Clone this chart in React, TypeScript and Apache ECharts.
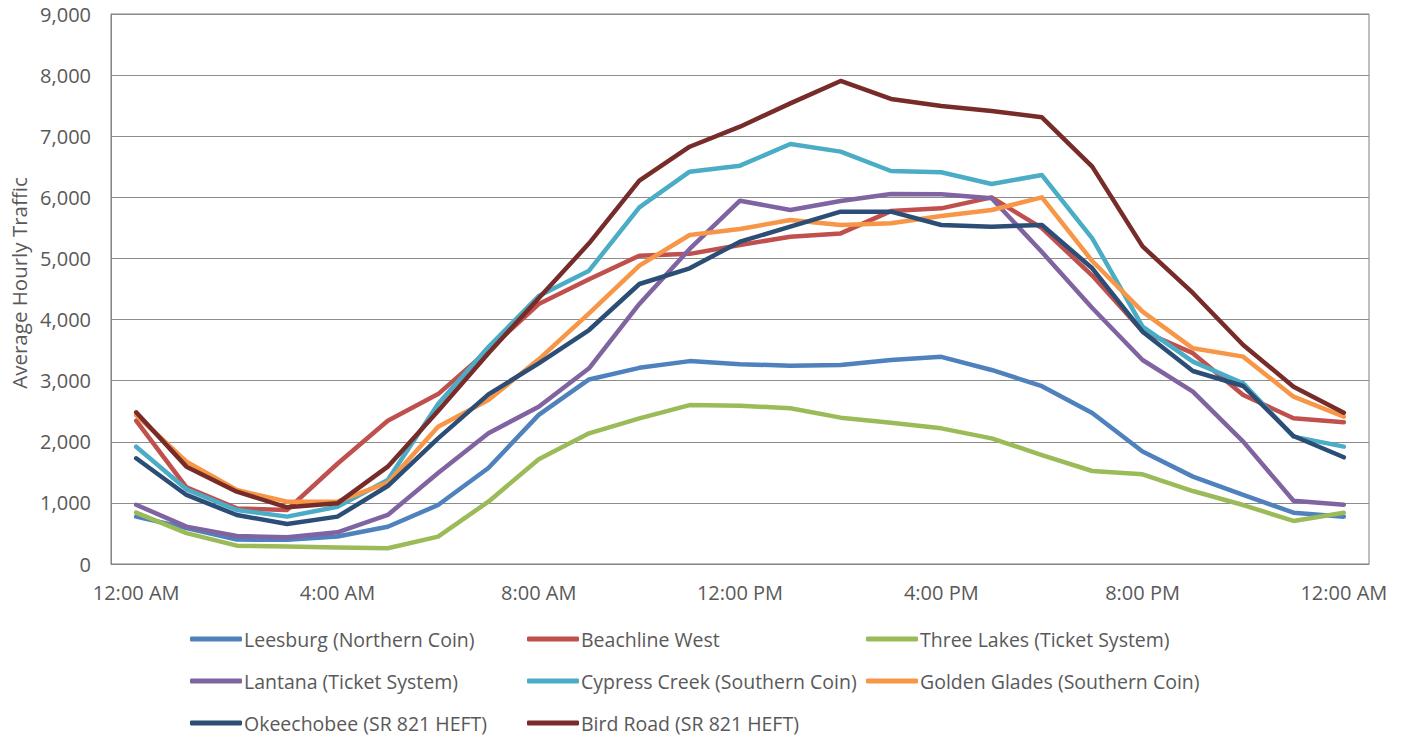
import React, { useEffect, useRef } from "react";
import * as echarts from "echarts";

const hours = [
  "12:00 AM", "1:00 AM", "2:00 AM", "3:00 AM", "4:00 AM", "5:00 AM", "6:00 AM", "7:00 AM",
  "8:00 AM", "9:00 AM", "10:00 AM", "11:00 AM", "12:00 PM", "1:00 PM", "2:00 PM", "3:00 PM",
  "4:00 PM", "5:00 PM", "6:00 PM", "7:00 PM", "8:00 PM", "9:00 PM", "10:00 PM", "11:00 PM", "12:00 AM",
];

const leesburg = [775, 590, 400, 395, 450, 610, 965, 1570, 2440, 3020, 3210, 3320, 3270, 3245, 3255, 3340, 3390, 3175, 2910, 2470, 1840, 1430, 1130, 840, 775];
const beachline = [2345, 1255, 910, 885, 1640, 2345, 2780, 3500, 4255, 4660, 5045, 5075, 5220, 5355, 5410, 5775, 5820, 6000, 5495, 4720, 3810, 3450, 2765, 2385, 2320];
const threeLakes = [840, 505, 300, 285, 268, 257, 448, 1020, 1713, 2138, 2384, 2600, 2590, 2550, 2395, 2313, 2220, 2056, 1783, 1522, 1467, 1194, 965, 704, 840];
const lantana = [970, 611, 458, 436, 518, 802, 1490, 2140, 2574, 3202, 4255, 5155, 5945, 5793, 5940, 6055, 6050, 5984, 5105, 4190, 3338, 2820, 2002, 1036, 971];
const cypress = [1920, 1222, 884, 775, 938, 1375, 2620, 3550, 4386, 4800, 5836, 6420, 6518, 6873, 6748, 6431, 6410, 6219, 6365, 5330, 3883, 3311, 2957, 2084, 1920];
const golden = [2438, 1675, 1211, 1020, 1020, 1330, 2247, 2684, 3349, 4100, 4882, 5384, 5482, 5629, 5547, 5575, 5695, 5793, 6000, 4958, 4129, 3529, 3393, 2738, 2411];
const okeechobee = [1730, 1130, 802, 655, 775, 1276, 2056, 2776, 3284, 3829, 4582, 4839, 5275, 5520, 5766, 5766, 5547, 5520, 5547, 4839, 3802, 3158, 2913, 2095, 1746];
const birdRoad = [2482, 1593, 1184, 928, 993, 1593, 2503, 3450, 4350, 5247, 6273, 6828, 7156, 7538, 7904, 7610, 7495, 7413, 7309, 6502, 5197, 4435, 3584, 2902, 2477];

const seriesNames = [
  "Leesburg (Northern Coin)",
  "Beachline West",
  "Three Lakes (Ticket System)",
  "Lantana (Ticket System)",
  "Cypress Creek (Southern Coin)",
  "Golden Glades (Southern Coin)",
  "Okeechobee (SR 821 HEFT)",
  "Bird Road (SR 821 HEFT)",
];
const seriesValues = [leesburg, beachline, threeLakes, lantana, cypress, golden, okeechobee, birdRoad];
const colors = ["#4F81BD", "#C0504D", "#9BBB59", "#8064A2", "#4BACC6", "#F79646", "#2C4D75", "#772C2A"];

const FONT = "'Open Sans', sans-serif";
const TEXT = "#595959";

export default function App() {
  const ref = useRef<HTMLDivElement>(null);

  useEffect(() => {
    if (!ref.current) return;
    const chart = echarts.init(ref.current, undefined, { renderer: "svg" });

    const legendCol = (names: string[], left: number) => ({
      orient: "vertical",
      left,
      top: 629,
      height: 108,
      padding: 0,
      itemWidth: 52,
      itemHeight: 5,
      itemGap: 22,
      icon: "roundRect",
      data: names,
      textStyle: { color: TEXT, fontSize: 19.5, fontFamily: FONT, padding: [0, 0, 0, -3], lineHeight: 20 },
    });

    chart.setOption({
      animation: false,
      backgroundColor: "#ffffff",
      textStyle: { fontFamily: FONT },
      grid: {
        left: 110,
        right: 35,
        top: 14,
        bottom: 174,
        show: true,
        borderColor: "#7F7F7F",
        borderWidth: 1,
        containLabel: false,
      },
      legend: [
        legendCol([seriesNames[0], seriesNames[3], seriesNames[6]], 190),
        legendCol([seriesNames[1], seriesNames[4], seriesNames[7]], 527),
        legendCol([seriesNames[2], seriesNames[5]], 866),
      ],
      xAxis: {
        type: "category",
        data: hours,
        boundaryGap: true,
        axisLine: { show: true, lineStyle: { color: "#868686", width: 1 } },
        axisTick: { show: false },
        axisLabel: {
          interval: 3,
          color: TEXT,
          fontSize: 20,
          fontFamily: FONT,
          margin: 18,
        },
        splitLine: { show: false },
      },
      yAxis: {
        type: "value",
        min: 0,
        max: 9000,
        interval: 1000,
        name: "Average Hourly Traffic",
        nameLocation: "middle",
        nameGap: 82,
        nameTextStyle: { color: TEXT, fontSize: 20.5, fontFamily: FONT, padding: [0, 0, 0, 12] },
        axisLine: { show: true, lineStyle: { color: "#868686", width: 1 } },
        axisTick: { show: false },
        axisLabel: {
          color: TEXT,
          fontSize: 20,
          fontFamily: FONT,
          margin: 20,
          formatter: (v: number) => v.toLocaleString("en-US"),
        },
        splitLine: { show: true, lineStyle: { color: "#8C8C8C", width: 1 } },
      },
      series: seriesNames.map((name, i) => ({
        name,
        type: "line",
        data: seriesValues[i],
        symbol: "none",
        color: colors[i],
        lineStyle: { width: 4.5, color: colors[i], cap: "round", join: "round" },
        itemStyle: { color: colors[i] },
      })),
    });

    return () => chart.dispose();
  }, []);

  return (
    <div
      ref={ref}
      style={{ position: "fixed", left: 0, top: 0, width: 1404, height: 738, background: "#fff" }}
    />
  );
}
